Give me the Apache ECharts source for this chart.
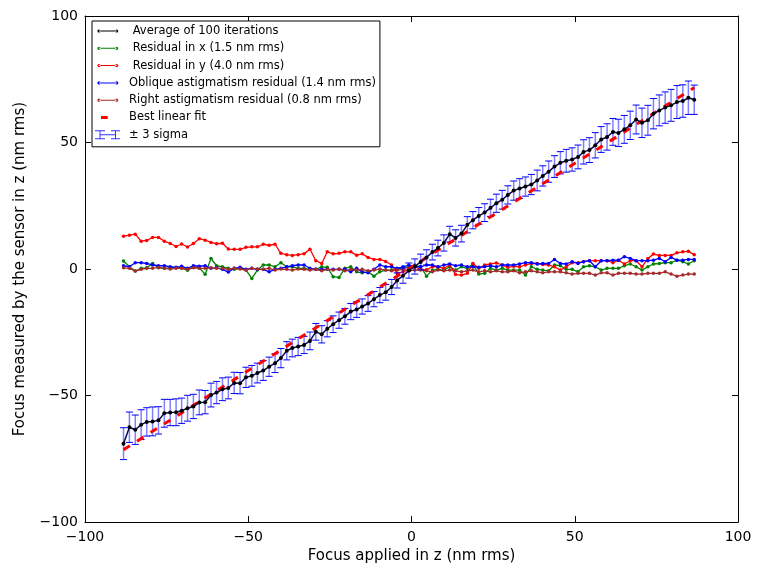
<!DOCTYPE html>
<html>
<head>
<meta charset="utf-8">
<script src="https://cdn.jsdelivr.net/npm/echarts@6/dist/echarts.min.js"></script>
<style>
  html, body { margin: 0; padding: 0; background: #fff; }
  #chart { width: 758px; height: 569px; }
</style>
</head>
<body>
<div id="chart"></div>
<script>
// focus applied (x)
var focusX = [
  -88.2, -86.4, -84.6, -82.8, -81.1, -79.3, -77.5, -75.7, -73.9, -72.1,
  -70.4, -68.6, -66.8, -65.0, -63.2, -61.4, -59.7, -57.9, -56.1, -54.3,
  -52.5, -50.7, -48.9, -47.2, -45.4, -43.6, -41.8, -40.0, -38.2, -36.5,
  -34.7, -32.9, -31.1, -29.3, -27.5, -25.8, -24.0, -22.2, -20.4, -18.6,
  -16.8, -15.1, -13.3, -11.5, -9.7, -7.9, -6.1, -4.4, -2.6, -0.8,
  1.0, 2.8, 4.6, 6.4, 8.1, 9.9, 11.7, 13.5, 15.3, 17.1,
  18.8, 20.6, 22.4, 24.2, 26.0, 27.8, 29.5, 31.3, 33.1, 34.9,
  36.7, 38.5, 40.2, 42.0, 43.8, 45.6, 47.4, 49.2, 51.0, 52.7,
  54.5, 56.3, 58.1, 59.9, 61.7, 63.4, 65.2, 67.0, 68.8, 70.6,
  72.4, 74.1, 75.9, 77.7, 79.5, 81.3, 83.1, 84.8, 86.6
];

var average = [
  -69.0, -62.5, -63.5, -61.5, -60.4, -60.2, -59.8, -57.0, -56.7, -56.6,
  -56.0, -55.0, -54.3, -52.7, -52.6, -49.8, -48.8, -47.5, -47.0, -45.0,
  -45.1, -42.8, -42.2, -41.1, -40.1, -38.6, -37.2, -35.2, -32.3, -31.2,
  -30.6, -30.0, -28.4, -24.8, -25.8, -23.6, -21.8, -20.2, -18.7, -16.8,
  -16.0, -14.8, -13.6, -11.9, -10.3, -9.2, -7.1, -4.5, -2.6, -0.6,
  1.0, 2.8, 4.6, 6.7, 8.3, 10.3, 13.8, 12.3, 14.0, 17.5,
  19.3, 21.0, 22.3, 24.2, 26.0, 27.4, 29.3, 31.0, 31.8, 32.6,
  33.4, 35.0, 36.8, 38.5, 40.5, 42.0, 42.8, 43.3, 44.3, 46.3,
  47.0, 48.9, 51.2, 52.2, 54.2, 53.8, 55.2, 56.8, 59.1, 57.8,
  58.8, 61.4, 62.7, 63.8, 64.7, 66.0, 66.4, 67.7, 66.9
];

// half length of the 3 sigma bars
var threeSigma = [
  6.3, 6.0, 5.8, 5.9, 5.6, 5.7, 5.4, 5.5, 5.2, 5.3,
  5.0, 5.1, 4.8, 4.9, 4.6, 4.7, 4.4, 4.5, 4.3, 4.2,
  4.2, 4.0, 4.1, 3.9, 3.9, 3.8, 3.7, 3.8, 3.6, 3.5,
  3.6, 3.4, 3.5, 3.3, 3.4, 3.2, 3.3, 3.2, 3.1, 3.2,
  3.1, 3.0, 3.1, 3.0, 3.0, 3.1, 3.0, 3.0, 3.0, 3.0,
  3.0, 3.1, 3.0, 3.1, 3.1, 3.2, 3.1, 3.2, 3.3, 3.2,
  3.4, 3.3, 3.5, 3.4, 3.6, 3.7, 3.6, 3.8, 3.9, 3.8,
  4.0, 4.1, 4.0, 4.2, 4.3, 4.4, 4.5, 4.6, 4.7, 4.8,
  4.9, 5.0, 5.1, 5.2, 5.3, 5.4, 5.5, 5.6, 5.7, 5.8,
  5.9, 6.0, 6.1, 6.2, 6.3, 6.5, 6.4, 6.6, 5.8
];

var residualX = [
  3.2, 0.9, -0.8, 0.3, 0.5, 2.2, 0.5, 0.3, 0.5, 0.5,
  0.5, -0.5, 0.9, 0.5, -2.1, 4.2, 1.3, 0.9, 0.3, -0.1,
  0.3, -0.4, -3.7, -0.4, 1.6, 1.6, 0.9, 2.5, 0.9, 0.9,
  0.3, 0.3, -0.1, -0.1, 0.9, 0.7, -3.0, -3.3, 0.3, 0.9,
  -1.1, -1.5, -1.1, -2.8, -1.1, -0.4, -0.4, -0.1, 0.5, 0.9,
  1.6, 0.9, -2.8, -0.4, -0.1, -0.4, 0.9, -0.4, 0.9, 0.3,
  2.0, -2.0, -1.7, 0.3, -0.4, 0.3, -0.4, -0.4, -0.4, -2.4,
  0.9, -0.1, -0.4, -0.7, 1.6, 1.3, -0.1, -0.1, -1.1, 0.9,
  1.3, 0.9, -0.4, 0.3, 0.3, 0.3, 1.3, 2.0, 0.9, -0.4,
  0.9, 2.0, 2.2, 2.5, 2.5, 3.5, 2.9, 2.0, 3.3
];

var residualY = [
  13.0, 13.4, 13.8, 11.0, 11.3, 12.5, 12.5, 11.0, 10.1, 8.9,
  9.9, 8.7, 10.1, 12.0, 11.4, 10.5, 10.0, 10.2, 7.9, 7.8,
  7.8, 8.6, 8.8, 8.8, 9.8, 9.4, 9.8, 6.2, 5.7, 5.4,
  5.7, 6.0, 7.8, 3.3, 2.2, 6.8, 6.0, 6.2, 6.8, 6.8,
  5.5, 6.0, 4.6, 3.8, 3.8, 3.0, 1.6, -1.7, -1.1, -0.1,
  0.9, -0.1, -0.3, 0.9, 0.9, 0.3, 1.6, -2.2, -2.4, -1.7,
  2.2, 0.3, 1.6, 2.0, 2.4, 1.6, 0.7, 1.1, 0.9, 1.6,
  2.2, 2.2, 1.8, 1.6, 0.9, -0.4, 0.9, 2.5, 2.5, 2.9,
  3.3, 3.3, 3.3, 3.3, 2.5, 3.5, 2.0, 3.3, 3.3, 0.9,
  4.2, 5.9, 5.4, 5.4, 5.4, 6.4, 6.8, 7.0, 5.7
];

var obliqueAstig = [
  1.3, 0.9, 2.5, 2.5, 2.2, 1.6, 1.3, 1.3, 0.9, 0.7,
  1.1, 0.3, 1.3, 1.1, 1.3, 0.3, 0.5, -0.1, -1.2, 0.3,
  0.7, -0.1, 0.3, -0.1, -0.1, -1.1, -0.1, 0.3, 0.9, 1.3,
  1.6, 1.6, 0.3, -0.1, -0.1, -0.1, -0.1, -0.1, -0.1, -1.1,
  0.3, -1.1, -1.5, -0.1, 1.6, 0.9, 0.9, 0.3, 0.9, 1.6,
  0.9, 0.9, 1.6, 1.6, 0.9, 1.6, 2.0, 1.3, 1.6, 0.9,
  0.9, 0.7, 0.9, 1.3, 0.9, 1.6, 1.6, 1.6, 2.0, 2.5,
  2.5, 2.0, 2.2, 2.2, 3.8, 2.2, 2.0, 2.9, 2.2, 2.9,
  3.3, 0.9, 3.3, 3.3, 3.5, 3.5, 4.9, 4.2, 3.3, 3.3,
  3.3, 3.5, 4.2, 2.9, 4.6, 3.5, 3.5, 3.8, 3.8
];

var rightAstig = [
  0.5, 0.3, -0.8, -0.1, 0.3, 0.3, 0.7, 0.3, 0.0, 0.3,
  0.3, -0.1, 0.5, 0.3, 0.3, 0.5, 0.3, 0.3, -0.1, 0.3,
  0.0, -0.4, 0.3, 0.0, -0.1, 0.3, -0.4, 0.0, -0.1, -0.4,
  0.0, -0.1, -0.4, -0.1, -0.7, -0.1, -0.4, 0.0, -0.7, -0.1,
  -0.4, -0.1, -0.7, -0.4, 0.0, -0.4, -0.7, -0.4, -0.1, -0.7,
  -0.4, -0.4, -0.7, -1.1, -0.4, -0.7, -0.4, -0.7, -1.1, -0.7,
  -0.4, -1.1, -0.7, -1.1, -0.7, -1.1, -1.1, -0.7, -1.5, -1.1,
  -0.7, -1.1, -1.5, -1.1, -1.1, -1.1, -1.5, -2.0, -1.7, -1.7,
  -1.7, -2.4, -1.5, -1.5, -2.4, -1.7, -1.7, -1.7, -2.0, -2.0,
  -1.7, -1.7, -1.7, -1.1, -2.0, -2.8, -2.4, -2.0, -2.0
];

// best linear fit end points
var fitX = [-88.2, 86.6];
var fitY = [-71.4, 71.7];

var xTicks = [-100, -50, 0, 50, 100];
var yTicks = [-100, -50, 0, 50, 100];

function pairs(xs, ys) {
  return xs.map(function (x, i) { return [x, ys[i]]; });
}

function minusSign(v) {
  return v < 0 ? '\u2212' + Math.abs(v) : String(v);
}

// legend icons, all drawn in a 29 x 9 box
var box = 'M0,0L0,0M29,9L29,9';
function dotLineIcon() {
  return 'path://' + box +
    'M2.4,4.5a1.6,1.6 0 1,0 3.2,0a1.6,1.6 0 1,0 -3.2,0Z' +
    'M20.1,4.5a1.6,1.6 0 1,0 3.2,0a1.6,1.6 0 1,0 -3.2,0Z' +
    'M4,4L21.7,4L21.7,5L4,5Z';
}
var dashIcon = 'path://' + box + 'M6,3L12.7,3L12.7,6L6,6Z';
var barIcon = 'path://' + box +
  'M0,0L10,0L10,1L5.5,1L5.5,8L10,8L10,9L0,9L0,8L4.5,8L4.5,1L0,1Z' +
  'M16,0L25,0L25,1L21,1L21,8L25,8L25,9L16,9L16,8L20,8L20,1L16,1Z' +
  'M5.5,4L20,4L20,5L5.5,5Z';

var names = {
  avg: ' Average of 100 iterations',
  rx: ' Residual in x (1.5 nm rms)',
  ry: ' Residual in y (4.0 nm rms)',
  obl: 'Oblique astigmatism residual (1.4 nm rms)',
  right: 'Right astigmatism residual (0.8 nm rms)',
  fit: 'Best linear fit',
  sig: '\u00b1 3 sigma'
};

function dotLine(name, ys, color, size, z) {
  return {
    type: 'line',
    name: name,
    data: pairs(focusX, ys),
    symbol: 'circle',
    symbolSize: size,
    showSymbol: true,
    z: z,
    itemStyle: { color: color, borderWidth: 0 },
    lineStyle: { color: color, width: 1.3 }
  };
}

var chart = echarts.init(document.getElementById('chart'));

var axisCommon = {
  type: 'value',
  min: -100,
  max: 100,
  interval: 50,
  splitLine: { show: false },
  axisLine: { show: true, onZero: false, lineStyle: { color: '#000', width: 1 } },
  axisTick: { show: true, inside: true, length: 6, lineStyle: { color: '#000' } }
};

chart.setOption({
  animation: false,
  backgroundColor: '#fff',
  textStyle: { fontFamily: 'DejaVu Sans' },
  grid: { left: 85, right: 20, top: 16, bottom: 46, containLabel: false },
  xAxis: [
    Object.assign({}, axisCommon, {
      position: 'bottom',
      name: 'Focus applied in z (nm rms)',
      nameLocation: 'middle',
      nameGap: 26,
      nameTextStyle: { fontSize: 15, color: '#000', fontFamily: 'DejaVu Sans' },
      axisLabel: { fontSize: 14, color: '#000', margin: 8, fontFamily: 'DejaVu Sans',
        formatter: minusSign, customValues: xTicks }
    }),
    Object.assign({}, axisCommon, { position: 'top', axisLabel: { show: false } })
  ],
  yAxis: [
    Object.assign({}, axisCommon, {
      position: 'left',
      name: 'Focus measured by the sensor in z (nm rms)',
      nameLocation: 'middle',
      nameGap: 57,
      nameTextStyle: { fontSize: 15, color: '#000', fontFamily: 'DejaVu Sans' },
      axisLabel: { fontSize: 14, color: '#000', margin: 7, fontFamily: 'DejaVu Sans',
        formatter: minusSign, customValues: yTicks }
    }),
    Object.assign({}, axisCommon, { position: 'right', axisLabel: { show: false } })
  ],
  legend: {
    orient: 'vertical',
    left: 92,
    top: 21,
    padding: [4, 4, 6, 3],
    itemGap: 5.3,
    itemWidth: 29,
    itemHeight: 9,
    selectedMode: false,
    borderColor: '#000',
    borderWidth: 1,
    backgroundColor: '#fff',
    textStyle: { fontSize: 11.5, color: '#000', fontFamily: 'DejaVu Sans' },
    itemStyle: { borderWidth: 0 },
    data: [
      { name: names.avg, icon: dotLineIcon() },
      { name: names.rx, icon: dotLineIcon() },
      { name: names.ry, icon: dotLineIcon() },
      { name: names.obl, icon: dotLineIcon() },
      { name: names.right, icon: dotLineIcon() },
      { name: names.fit, icon: dashIcon },
      { name: names.sig, icon: barIcon, itemStyle: { color: '#3333ff' } }
    ]
  },
  series: [
    dotLine(names.rx, residualX, '#008000', 3.5, 2),
    dotLine(names.ry, residualY, '#ff0000', 3.5, 3),
    dotLine(names.obl, obliqueAstig, '#0000ff', 3.5, 4),
    dotLine(names.right, rightAstig, '#a52a2a', 3.5, 5),
    {
      type: 'custom',
      name: names.sig,
      z: 6,
      data: focusX.map(function (x, i) { return [x, average[i], threeSigma[i]]; }),
      encode: { x: 0, y: 1 },
      itemStyle: { color: '#3333ff' },
      renderItem: function (params, api) {
        var x = api.value(0);
        var m = api.value(1);
        var s = api.value(2);
        var hi = api.coord([x, m + s]);
        var lo = api.coord([x, m - s]);
        var w = 3.5;
        return {
          type: 'group',
          children: [
            { type: 'line', shape: { x1: hi[0], y1: hi[1], x2: lo[0], y2: lo[1] },
              style: { stroke: 'rgba(0,0,255,0.5)', lineWidth: 1.5 } },
            { type: 'line', shape: { x1: hi[0] - w, y1: hi[1], x2: hi[0] + w, y2: hi[1] },
              style: { stroke: '#0000ff', lineWidth: 1 } },
            { type: 'line', shape: { x1: lo[0] - w, y1: lo[1], x2: lo[0] + w, y2: lo[1] },
              style: { stroke: '#0000ff', lineWidth: 1 } }
          ]
        };
      }
    },
    {
      type: 'line',
      name: names.fit,
      data: pairs(fitX, fitY),
      symbol: 'none',
      z: 7,
      itemStyle: { color: '#ff0000' },
      lineStyle: { color: '#ff0000', width: 3, type: [7.5, 8.5], cap: 'butt' }
    },
    Object.assign(dotLine(names.avg, average, '#000000', 4, 8), {
      lineStyle: { color: '#0a0a50', width: 1.5 }
    })
  ]
});
</script>
</body>
</html>
